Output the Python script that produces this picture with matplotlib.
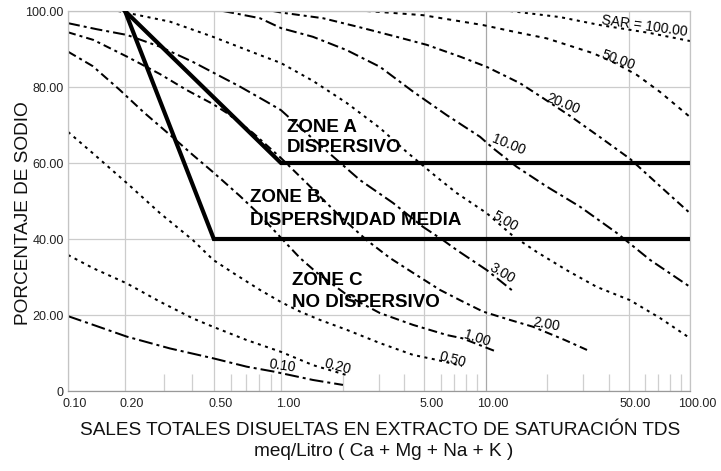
import numpy as np
import matplotlib
matplotlib.use("Agg")
import matplotlib.pyplot as plt
from matplotlib.transforms import ScaledTranslation

plt.rcParams['font.family'] = ['Liberation Sans', 'DejaVu Sans']
plt.rcParams['lines.scale_dashes'] = False

# SAR curves: TDS in meq/L, sodium percentage
sar_0_1_x = [0.1, 0.136, 0.204, 0.318, 0.497, 0.702, 0.93, 1.0, 1.433, 2.006]
sar_0_1_y = [19.7, 17.4, 14.3, 11.2, 8.6, 6.4, 5.1, 4.7, 2.9, 1.6]

sar_0_2_x = [0.1, 0.136, 0.204, 0.287, 0.403, 0.496, 0.702, 1.0, 1.433, 2.09]
sar_0_2_y = [35.8, 32.3, 28.3, 23.5, 19.1, 16.9, 13.4, 10.3, 6.8, 4.2]

sar_0_5_x = [0.1, 0.135, 0.204, 0.287, 0.403, 0.497, 0.609, 0.805, 1.0, 1.238, 1.55,
             2.092, 3.04, 4.405, 5.747, 7.637]
sar_0_5_y = [68.2, 62.6, 54.7, 46.8, 39.7, 34.5, 31.1, 26.6, 23.4, 20.9, 18.7,
             16.1, 12.6, 9.5, 8.2, 6.6]

sar_1_x = [0.1, 0.135, 0.188, 0.242, 0.318, 0.403, 0.496, 0.655, 0.805, 1.0, 1.238,
           1.498, 2.171, 3.04, 4.405, 6.47, 7.637, 11.32]
sar_1_y = [89.3, 85.5, 79.2, 73.4, 67.4, 62.1, 57.6, 51.3, 46.3, 40.3, 35.0,
           31.1, 24.7, 20.5, 17.4, 14.7, 13.9, 10.3]

sar_2_x = [0.1, 0.136, 0.204, 0.287, 0.378, 0.496, 0.571, 0.749, 1.0, 1.335, 1.87,
           2.618, 3.401, 4.405, 5.965, 7.468, 9.669, 13.11, 17.0, 24.39, 31.27]
sar_2_y = [94.4, 92.4, 88.0, 83.4, 79.2, 75.5, 73.2, 67.9, 61.3, 54.7, 46.8,
           39.7, 35.0, 31.1, 26.6, 23.9, 20.9, 18.7, 16.9, 13.4, 10.8]

sar_3_x = [0.1, 0.142, 0.204, 0.287, 0.403, 0.655, 0.863, 1.0, 1.335, 1.794, 2.429,
           3.518, 4.927, 6.17, 7.2, 10.1, 13.56]
sar_3_y = [96.8, 95.2, 93.7, 90.6, 86.6, 80.1, 76.1, 73.9, 67.8, 61.7, 55.5,
           49.5, 43.2, 39.7, 37.1, 31.8, 26.3]

sar_5_x = [0.184, 0.318, 0.496, 0.805, 1.0, 1.433, 2.092, 3.04, 4.104, 5.747, 7.195,
           10.08, 13.56, 17.72, 24.86, 34.88, 50.8, 71.3, 100]
sar_5_y = [100, 97.2, 93.2, 88.4, 86.3, 81.6, 75.8, 69.2, 62.9, 56.3, 52.1,
           46.8, 40.8, 36.6, 31.8, 27.4, 23.9, 19.2, 13.9]

sar_10_x = [0.55, 0.805, 1.0, 1.433, 2.092, 3.04, 4.405, 6.433, 9.348, 10.82, 14.14,
            19.84, 28.89, 43.73, 63.7, 100]
sar_10_y = [100, 98.1, 95.5, 93.2, 89.7, 85.3, 78.8, 72.6, 66.9, 63.9, 59.0,
            53.8, 48.5, 41.6, 34.5, 27.4]

sar_20_x = [0.921, 1.0, 1.603, 2.429, 3.668, 5.136, 7.468, 10.08, 14.68, 18.4, 25.81,
            36.22, 50.8, 71.3, 100]
sar_20_y = [100, 99.6, 98.1, 95.7, 93.2, 91.1, 88.0, 85.3, 81.0, 77.6, 72.4,
            66.8, 61.1, 53.9, 46.8]

sar_50_x = [2.618, 4.927, 9.669, 13.56, 19.84, 33.46, 42.9, 54.8, 71.3, 100]
sar_50_y = [100, 98.9, 96.3, 94.6, 92.8, 88.9, 86.3, 83.2, 78.7, 72.1]

sar_100_x = [13.11, 23.05, 36.22, 63.7, 100]
sar_100_y = [100, 98.4, 96.3, 94.2, 92.1]

# zone boundaries
zone_ab_x = [0.2, 1.0, 100]
zone_ab_y = [100, 60, 60]
zone_bc_x = [0.2, 0.5, 100]
zone_bc_y = [100, 40, 40]

x_ticks = [0.1, 0.2, 0.5, 1, 5, 10, 50, 100]
x_tick_labels = ['0.10', '0.20', '0.50', '1.00', '5.00', '10.00', '50.00', '100.00']
x_minor = [0.3, 0.4, 0.6, 0.7, 0.8, 0.9, 2, 3, 4, 6, 7, 8, 9, 20, 30, 40, 60, 70, 80, 90]
y_ticks = [0, 20, 40, 60, 80, 100]
y_tick_labels = ['0', '20.00', '40.00', '60.00', '80.00', '100.00']


# the printed log axis is not uniform: first decade is squeezed
log_nodes = np.log10([0.1, 0.2, 1, 10, 100])
pix_nodes = [0, 57, 213, 418, 622]


def fwd(x):
    x = np.clip(np.asarray(x, dtype=float), 1e-6, None)
    return np.interp(np.log10(x), log_nodes, pix_nodes)


def inv(u):
    return 10 ** np.interp(u, pix_nodes, log_nodes)


def dash(*px):
    return (0, tuple(p * 0.72 for p in px))


fig = plt.figure(figsize=(7.21, 4.71), dpi=100)
ax = fig.add_axes([68 / 721, 80 / 471, 622 / 721, 380 / 471])
ax.set_xscale('function', functions=(fwd, inv))
ax.set_xlim(0.1, 100)
ax.set_ylim(0, 100)

dotted = dash(3, 4.5)
curves = [
    (sar_0_1_x, sar_0_1_y, dash(14, 4, 3, 4)),
    (sar_0_2_x, sar_0_2_y, dotted),
    (sar_0_5_x, sar_0_5_y, dotted),
    (sar_1_x, sar_1_y, dash(9, 4, 3, 4)),
    (sar_2_x, sar_2_y, dash(8, 4, 3, 4)),
    (sar_3_x, sar_3_y, dash(12, 4, 3, 4)),
    (sar_5_x, sar_5_y, dotted),
    (sar_10_x, sar_10_y, dash(11, 4, 3, 4)),
    (sar_20_x, sar_20_y, dash(8, 4, 3, 4)),
    (sar_50_x, sar_50_y, dash(4, 5)),
    (sar_100_x, sar_100_y, dotted),
]
for cx, cy, ls in curves:
    ax.plot(cx, cy, color='black', lw=1.45, linestyle=ls, dash_capstyle='butt', zorder=2)

ax.plot(zone_ab_x, zone_ab_y, color='black', lw=3, solid_joinstyle='miter', zorder=3)
ax.plot(zone_bc_x, zone_bc_y, color='black', lw=3, solid_joinstyle='miter', zorder=3)

# curve labels
lab_kw = dict(fontsize=10, ha='center', va='center', zorder=4)
ax.text(59.5, 96.1, 'SAR = 100.00', rotation=-8, **lab_kw)
ax.text(44.6, 87.1, '50.00', rotation=-20, **lab_kw)
ax.text(23.85, 75.7, '20.00', rotation=-22, **lab_kw)
ax.text(12.96, 64.7, '10.00', rotation=-22, **lab_kw)
ax.text(12.39, 44.7, '5.00', rotation=-30, **lab_kw)
ax.text(11.98, 31.1, '3.00', rotation=-30, **lab_kw)
ax.text(19.7, 17.4, '2.00', rotation=-10, **lab_kw)
ax.text(9.04, 13.9, '1.00', rotation=-18, **lab_kw)
ax.text(6.9, 8.2, '0.50', rotation=-15, **lab_kw)
ax.text(1.897, 6.3, '0.20', rotation=-15, **lab_kw)
ax.text(1.02, 6.6, '0.10', rotation=-8, **lab_kw)

zone_kw = dict(fontsize=13.5, fontweight='bold', ha='left', va='baseline', zorder=4)
ax.text(1.066, 68.2, 'ZONE A', **zone_kw)
ax.text(1.066, 63.0, 'DISPERSIVO', **zone_kw)
ax.text(0.726, 49.8, 'ZONE B.', **zone_kw)
ax.text(0.726, 43.7, 'DISPERSIVIDAD MEDIA', **zone_kw)
ax.text(1.128, 27.9, 'ZONE C', **zone_kw)
ax.text(1.128, 22.2, 'NO DISPERSIVO', **zone_kw)

# ticks, grid, frame
ax.set_xticks(x_ticks, x_tick_labels)
ax.set_xticks(x_minor, minor=True)
ax.set_yticks(y_ticks, y_tick_labels)
ax.tick_params(which='major', length=0, labelsize=9, labelcolor='#222222')
ax.tick_params(axis='x', which='major', pad=5)
ax.tick_params(axis='y', which='major', pad=3)
ax.tick_params(axis='x', which='minor', direction='in', length=12, width=0.9, color='#cfcfcf')
for t, v in zip(ax.xaxis.get_minor_ticks(), x_minor):
    if v in (0.3, 40, 80):
        t.tick1line.set_color('#666666')
for lbl in ax.get_xticklabels():
    lbl.set_transform(lbl.get_transform() + ScaledTranslation(0.07, 0, fig.dpi_scale_trans))

ax.grid(True, which='major', color='#cccccc', lw=0.9)
for t, v in zip(ax.xaxis.get_major_ticks(), x_ticks):
    if v == 10:
        t.gridline.set_color('#a8a8a8')
for s in ax.spines.values():
    s.set_color('#c4c4c4')
    s.set_linewidth(0.9)
ax.spines['bottom'].set_color('#999999')

fig.text(380 / 721, 36 / 471, 'SALES TOTALES DISUELTAS EN EXTRACTO DE SATURACIÓN TDS',
         fontsize=13.7, ha='center', va='baseline', color='#111111')
fig.text(384 / 721, 14.5 / 471, 'meq/Litro ( Ca + Mg + Na + K )',
         fontsize=13.7, ha='center', va='baseline', color='#111111')
fig.text(23.5 / 721, (471 - 213) / 471, 'PORCENTAJE DE SODIO', rotation=90,
         fontsize=13.7, ha='center', va='center', color='#111111')

fig.savefig('out.png', dpi=100)
